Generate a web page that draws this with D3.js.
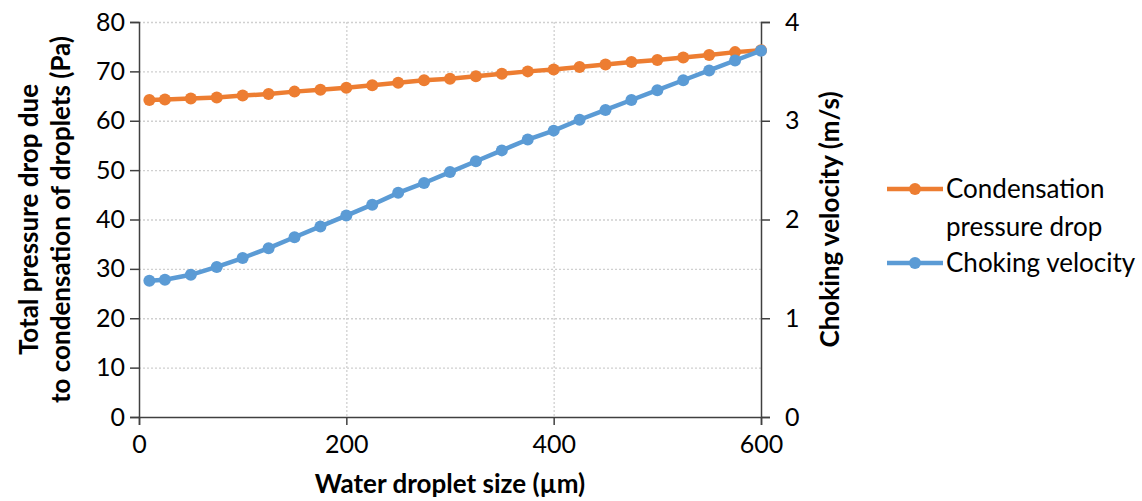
<!DOCTYPE html>
<html>
<head>
<meta charset="utf-8">
<script src="https://cdn.jsdelivr.net/npm/d3@7"></script>
<style>
  body { margin: 0; background: #fff; }
  text { font-family: Lato, "Open Sans", sans-serif; fill: #000; }
  .tick text { font-size: 25px; }
  .axisTitle { font-size: 26px; font-weight: bold; }
  .legendText { font-size: 26px; }
</style>
</head>
<body>
<div class="chart"></div>
<script>
// data
var dropletSize = [10, 25, 50, 75, 100, 125, 150, 175, 200, 225, 250, 275, 300,
    325, 350, 375, 400, 425, 450, 475, 500, 525, 550, 575, 600];
var pressureDrop = [64.2, 64.3, 64.5, 64.7, 65.1, 65.4, 65.9, 66.3, 66.7, 67.2, 67.7, 68.2, 68.5,
    69.0, 69.5, 70.0, 70.4, 70.9, 71.4, 71.9, 72.3, 72.8, 73.3, 73.9, 74.3];
var chokingVelocity = [1.38, 1.39, 1.44, 1.52, 1.61, 1.71, 1.82, 1.93, 2.04, 2.15, 2.27, 2.37, 2.48,
    2.59, 2.70, 2.81, 2.90, 3.01, 3.11, 3.21, 3.31, 3.41, 3.51, 3.61, 3.71];
var xTicks = [0, 200, 400, 600];
var leftTicks = [0, 10, 20, 30, 40, 50, 60, 70, 80];
var rightTicks = [0, 1, 2, 3, 4];
var seriesColors = ["#ED7D31", "#5B9BD5"];

var svgWidth = 1142;
var svgHeight = 501;

var margin = { top: 22, left: 139, right: 381, bottom: 84 };
var width = svgWidth - margin.left - margin.right;
var height = svgHeight - margin.top - margin.bottom;

var svg = d3.select(".chart")
    .append("svg")
    .attr("width", svgWidth)
    .attr("height", svgHeight);

var chartGroup = svg.append("g")
    .attr("transform", `translate(${margin.left}, ${margin.top})`);

var xScale = d3.scaleLinear().domain([0, 600]).range([0, width]);
var yLeft = d3.scaleLinear().domain([0, 80]).range([height, 0]);
var yRight = d3.scaleLinear().domain([0, 4]).range([height, 0]);

// gridlines (dotted)
chartGroup.append("g")
    .selectAll("line")
    .data(leftTicks.filter(d => d > 0))
    .enter()
    .append("line")
    .attr("x1", 0)
    .attr("x2", width)
    .attr("y1", d => yLeft(d) + 0.5)
    .attr("y2", d => yLeft(d) + 0.5)
    .attr("stroke", "#d0d0d0")
    .attr("stroke-width", 1.3)
    .attr("stroke-dasharray", "2,2");

chartGroup.append("g")
    .selectAll("line")
    .data(xTicks.filter(d => d > 0 && d < 600))
    .enter()
    .append("line")
    .attr("x1", d => xScale(d) + 0.5)
    .attr("x2", d => xScale(d) + 0.5)
    .attr("y1", 0)
    .attr("y2", height)
    .attr("stroke", "#d0d0d0")
    .attr("stroke-width", 1.3)
    .attr("stroke-dasharray", "2,2");

// axes
var bottomAxis = d3.axisBottom(xScale).tickValues(xTicks).tickSizeOuter(0).tickSize(8).tickPadding(10);
var leftAxis = d3.axisLeft(yLeft).tickValues(leftTicks).tickSizeOuter(0).tickSize(9).tickPadding(5);
var rightAxis = d3.axisRight(yRight).tickValues(rightTicks).tickFormat(d3.format("d"))
    .tickSizeOuter(0).tickSize(9).tickPadding(15);

function styleAxis(g) {
    g.selectAll("path, line").attr("stroke", "#404040").attr("stroke-width", 1.5);
    g.attr("font-family", null).attr("font-size", null);
}

chartGroup.append("g")
    .attr("transform", `translate(0, ${height})`)
    .call(bottomAxis)
    .call(styleAxis);

chartGroup.append("g")
    .call(leftAxis)
    .call(styleAxis);

chartGroup.append("g")
    .attr("transform", `translate(${width}, 0)`)
    .call(rightAxis)
    .call(styleAxis);

// series, blue drawn last so it sits on top
var series = [
    { values: pressureDrop, y: yLeft, color: seriesColors[0] },
    { values: chokingVelocity, y: yRight, color: seriesColors[1] }
];

series.forEach(function(s) {
    var pts = dropletSize.map((d, i) => [d, s.values[i]]);
    var line = d3.line().x(d => xScale(d[0])).y(d => s.y(d[1]));
    chartGroup.append("path")
        .datum(pts)
        .attr("d", line)
        .attr("fill", "none")
        .attr("stroke", s.color)
        .attr("stroke-width", 4.5)
        .attr("stroke-linejoin", "round");
    chartGroup.append("g")
        .selectAll("circle")
        .data(pts)
        .enter()
        .append("circle")
        .attr("cx", d => xScale(d[0]))
        .attr("cy", d => s.y(d[1]))
        .attr("r", 6)
        .attr("fill", s.color);
});

// axis titles
svg.append("text")
    .attr("class", "axisTitle")
    .attr("transform", `translate(${margin.left + width / 2}, 493)`)
    .attr("text-anchor", "middle")
    .text("Water droplet size (µm)");

var leftTitle = svg.append("text")
    .attr("class", "axisTitle")
    .attr("transform", `translate(38, ${margin.top + height / 2}) rotate(-90)`)
    .attr("text-anchor", "middle");
leftTitle.append("tspan").attr("x", 0).attr("dy", 0).text("Total pressure drop due");
leftTitle.append("tspan").attr("x", 0).attr("dy", 32).text("to condensation of droplets (Pa)");

svg.append("text")
    .attr("class", "axisTitle")
    .attr("transform", `translate(839, ${margin.top + height / 2}) rotate(-90)`)
    .attr("text-anchor", "middle")
    .text("Choking velocity (m/s)");

// legend
var legendY = [189, 263];
var legend = svg.append("g");
seriesColors.forEach(function(c, i) {
    legend.append("line")
        .attr("x1", 887).attr("x2", 943)
        .attr("y1", legendY[i]).attr("y2", legendY[i])
        .attr("stroke", c).attr("stroke-width", 4.5);
    legend.append("circle")
        .attr("cx", 915).attr("cy", legendY[i]).attr("r", 6).attr("fill", c);
});
var t1 = legend.append("text").attr("class", "legendText").attr("y", 198);
t1.append("tspan").attr("x", 946).text("Condensation");
t1.append("tspan").attr("x", 946).attr("dy", 38).text("pressure drop");
legend.append("text").attr("class", "legendText").attr("x", 946).attr("y", 272).text("Choking velocity");
</script>
</body>
</html>
